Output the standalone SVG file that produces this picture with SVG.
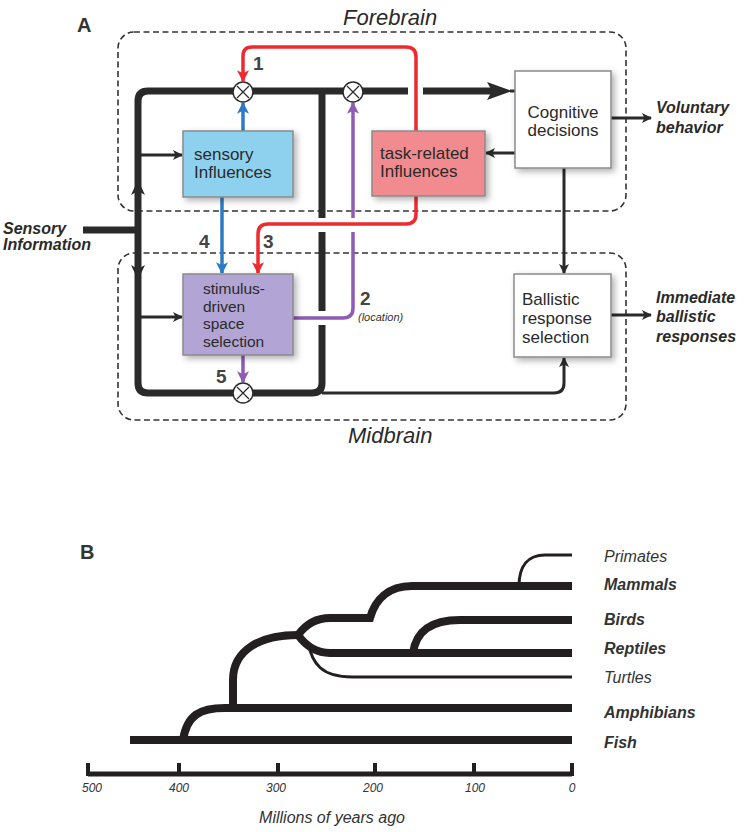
<svg xmlns="http://www.w3.org/2000/svg" width="750" height="832" viewBox="0 0 750 832">
<style>
.reg{fill:none;stroke:#333;stroke-width:1.6;stroke-dasharray:6 3.5}
.box{stroke:#8a8a8a;stroke-width:1.5}
.lbl{font-family:"Liberation Sans",Arial,sans-serif;font-size:17px;fill:#2a2a2a}
.lbl2{font-family:"Liberation Sans",Arial,sans-serif;font-size:15.5px;fill:#2a2a2a}
.side{font-family:"Liberation Sans",Arial,sans-serif;font-size:16px;font-style:italic;font-weight:bold;fill:#2a2a2a}
.reg-t{font-family:"Liberation Sans",Arial,sans-serif;font-size:22px;font-style:italic;fill:#2a2a2a}
.num{font-family:"Liberation Sans",Arial,sans-serif;font-size:19px;font-weight:bold;fill:#444}
.pan{font-family:"Liberation Sans",Arial,sans-serif;font-size:20px;font-weight:bold;fill:#333}
.bus{fill:none;stroke:#2a2a2a;stroke-width:7;stroke-linejoin:round}
.thin{fill:none;stroke:#2a2a2a;stroke-width:3}
.red{fill:none;stroke:#ee2a2f;stroke-width:3.5}
.blue{fill:none;stroke:#2b7bc4;stroke-width:3.5}
.purp{fill:none;stroke:#8e5bb5;stroke-width:3.5}
.xor circle{fill:#fff;stroke:#2a2a2a;stroke-width:1.5}
.xor path{stroke:#2a2a2a;stroke-width:1.2}
.tree{fill:none;stroke:#231f20;stroke-width:8}
.tree-t{fill:none;stroke:#231f20;stroke-width:3}
.tax{font-family:"Liberation Sans",Arial,sans-serif;font-size:16px;font-style:italic;fill:#333}
.tick{font-family:"Liberation Sans",Arial,sans-serif;font-size:12px;font-style:italic;fill:#333}
</style>
<defs>
<filter id="sh" x="-20%" y="-20%" width="150%" height="150%">
<feDropShadow dx="3" dy="3" stdDeviation="3" flood-color="#000" flood-opacity="0.3"/>
</filter>
<marker id="mk" viewBox="0 0 10 10" refX="9" refY="5" markerWidth="11" markerHeight="10" markerUnits="userSpaceOnUse" orient="auto"><path d="M0,0 L10,5 L0,10 L2.5,5 z" fill="#2a2a2a"/></marker>
<marker id="mr" viewBox="0 0 10 10" refX="9" refY="5" markerWidth="12" markerHeight="13" markerUnits="userSpaceOnUse" orient="auto"><path d="M0,0 L10,5 L0,10 L2.5,5 z" fill="#ee2a2f"/></marker>
<marker id="mb" viewBox="0 0 10 10" refX="9" refY="5" markerWidth="12" markerHeight="13" markerUnits="userSpaceOnUse" orient="auto"><path d="M0,0 L10,5 L0,10 L2.5,5 z" fill="#2b7bc4"/></marker>
<marker id="mp" viewBox="0 0 10 10" refX="9" refY="5" markerWidth="12" markerHeight="13" markerUnits="userSpaceOnUse" orient="auto"><path d="M0,0 L10,5 L0,10 L2.5,5 z" fill="#8e5bb5"/></marker>
</defs>

<text class="pan" x="77" y="32">A</text>

<g id="forebrain">
<rect class="reg" x="118" y="32" width="508" height="179" rx="16"/>
<text class="reg-t" x="343" y="25">Forebrain</text>
</g>
<g id="midbrain">
<rect class="reg" x="118" y="253" width="508" height="167" rx="16"/>
<text class="reg-t" x="348" y="443">Midbrain</text>
</g>

<g id="connectors">
<path class="bus" d="M492,91 H423 M408,91 H148 Q138,91 138,101 V383 Q138,393 148,393 H312 Q322,393 322,383 V325 M322,311 V232 M322,218 V91"/>
<polygon points="487,82 512,91 487,100 492,91" fill="#2a2a2a"/>
<path class="thin" d="M510,91 H515" stroke-width="2"/>
<path class="bus" d="M83,230 H138"/>
<polygon points="131,195 138,180 145,195 138,191" fill="#2a2a2a"/>
<polygon points="131,265 138,280 145,265 138,269" fill="#2a2a2a"/>
<path class="thin" d="M138,155 H182" stroke-width="2.5" marker-end="url(#mk)"/>
<path class="thin" d="M138,317 H182" stroke-width="2.5" marker-end="url(#mk)"/>
<path class="thin" d="M322,393 H554 Q564,393 564,383 V358" marker-end="url(#mk)"/>
<path class="thin" d="M564,168 V273" marker-end="url(#mk)"/>
<path class="thin" d="M515,153 H486" marker-end="url(#mk)"/>
<path class="thin" d="M611,118 H651" marker-end="url(#mk)"/>
<path class="thin" d="M611,315 H651" marker-end="url(#mk)"/>
<path class="red" d="M416,131 V57 Q416,47 406,47 H252 Q243,47 243,56 V81" marker-end="url(#mr)"/>
<path class="red" d="M416,196 V214 Q416,224 406,224 H268 Q258,224 258,234 V273" marker-end="url(#mr)"/>
<path class="blue" d="M243,131 V103" marker-end="url(#mb)"/>
<path class="blue" d="M222,197 V273" marker-end="url(#mb)"/>
<path class="purp" d="M293,318 H343 Q353,318 353,308 V232"/>
<path class="purp" d="M353,218 V103" marker-end="url(#mp)"/>
<path class="purp" d="M243,355 V382" marker-end="url(#mp)"/>
</g>

<g id="xor1" class="xor"><circle cx="243" cy="92" r="10"/><path d="M237,86 L249,98 M249,86 L237,98"/></g>
<g id="xor2" class="xor"><circle cx="353" cy="92" r="10"/><path d="M347,86 L359,98 M359,86 L347,98"/></g>
<g id="xor3" class="xor"><circle cx="243" cy="393" r="10"/><path d="M237,387 L249,399 M249,387 L237,399"/></g>

<g id="sensory">
<rect class="box" x="183" y="131" width="110" height="66" fill="#8ed1ef" filter="url(#sh)"/>
<text class="lbl" x="194" y="160">sensory</text>
<text class="lbl" x="194" y="178">Influences</text>
</g>
<g id="task">
<rect class="box" x="372" y="131" width="113" height="65" fill="#f28b8f" filter="url(#sh)"/>
<text class="lbl" x="380" y="159">task-related</text>
<text class="lbl" x="380" y="177">Influences</text>
</g>
<g id="stimulus">
<rect class="box" x="183" y="274" width="110" height="81" fill="#b2a5d5" filter="url(#sh)"/>
<text class="lbl2" x="203" y="294">stimulus-</text>
<text class="lbl2" x="203" y="311.5">driven</text>
<text class="lbl2" x="203" y="329">space</text>
<text class="lbl2" x="203" y="346.5">selection</text>
</g>
<g id="cognitive">
<rect class="box" x="515" y="71" width="96" height="97" fill="#fff" filter="url(#sh)"/>
<text class="lbl" x="563" y="118" text-anchor="middle">Cognitive</text>
<text class="lbl" x="563" y="136" text-anchor="middle">decisions</text>
</g>
<g id="ballistic">
<rect class="box" x="514" y="274" width="97" height="83" fill="#fff" filter="url(#sh)"/>
<text class="lbl" x="522" y="305">Ballistic</text>
<text class="lbl" x="522" y="324">response</text>
<text class="lbl" x="522" y="343">selection</text>
</g>

<g id="labels">
<text class="side" x="3" y="234">Sensory</text>
<text class="side" x="3" y="250">Information</text>
<text class="side" x="656" y="113">Voluntary</text>
<text class="side" x="656" y="133">behavior</text>
<text class="side" x="656" y="303">Immediate</text>
<text class="side" x="656" y="322">ballistic</text>
<text class="side" x="656" y="342">responses</text>
<text class="num" x="253" y="70">1</text>
<text class="num" x="360" y="305">2</text>
<text x="358" y="321" font-family="Liberation Sans, Arial, sans-serif" font-size="11" font-style="italic" fill="#333">(location)</text>
<text class="num" x="263" y="248">3</text>
<text class="num" x="199" y="248">4</text>
<text class="num" x="216" y="383">5</text>
</g>

<text class="pan" x="80" y="559">B</text>

<g id="tree">
<path class="tree" d="M130,740 H572"/>
<path class="tree" d="M183,740 C187,715 200,708 225,708 H572"/>
<path class="tree" d="M233,708 V680 C233,650 260,635 298,635"/>
<path class="tree" d="M298,635 C306,624 316,618 330,618 H370 C375,600 388,586 412,586 H572"/>
<path class="tree" d="M298,635 C306,646 316,653 330,653 H572"/>
<path class="tree-t" d="M308,642 C312,664 322,677 352,677 H572"/>
<path class="tree" d="M413,653 C416,632 430,620 460,620 H572"/>
<path class="tree-t" d="M519,586 C519,566 528,555 545,555 H572"/>
</g>
<g id="axis">
<path d="M88,774 H572" stroke="#231f20" stroke-width="5" fill="none"/>
<path d="M88,763 V776 M179,763 V776 M278,763 V776 M375,763 V776 M474,763 V776 M572,763 V776" stroke="#231f20" stroke-width="4" fill="none"/>
<text class="tick" x="92" y="792" text-anchor="middle">500</text>
<text class="tick" x="179" y="792" text-anchor="middle">400</text>
<text class="tick" x="276" y="792" text-anchor="middle">300</text>
<text class="tick" x="373" y="792" text-anchor="middle">200</text>
<text class="tick" x="475" y="792" text-anchor="middle">100</text>
<text class="tick" x="572" y="792" text-anchor="middle">0</text>
<text x="332" y="823" text-anchor="middle" font-family="Liberation Sans, Arial, sans-serif" font-size="16" font-style="italic" fill="#333">Millions of years ago</text>
</g>
<g id="taxa">
<text class="tax" x="604" y="562">Primates</text>
<text class="tax" x="604" y="590" font-weight="bold">Mammals</text>
<text class="tax" x="604" y="625" font-weight="bold">Birds</text>
<text class="tax" x="604" y="654" font-weight="bold">Reptiles</text>
<text class="tax" x="604" y="683">Turtles</text>
<text class="tax" x="604" y="718" font-weight="bold">Amphibians</text>
<text class="tax" x="604" y="748" font-weight="bold">Fish</text>
</g>
</svg>
